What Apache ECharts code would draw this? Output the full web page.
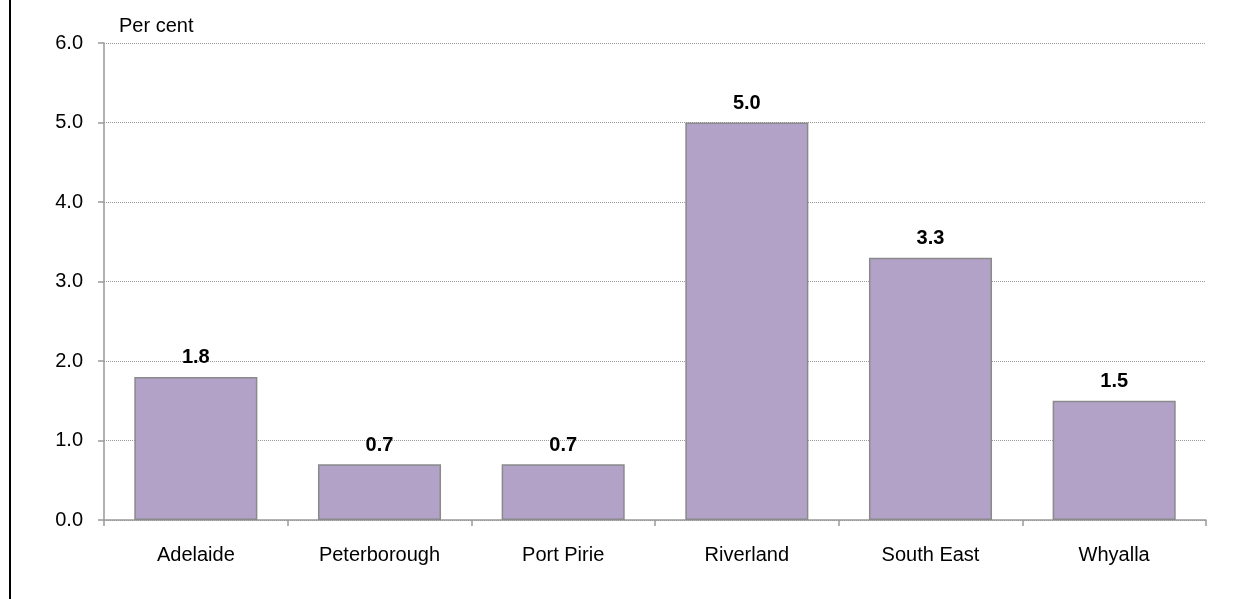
<!DOCTYPE html>
<html><head><meta charset="utf-8">
<script src="https://cdn.jsdelivr.net/npm/echarts@6/dist/echarts.min.js"></script>
<style>html,body{margin:0;padding:0;background:#fff}#c{width:1239px;height:599px;position:relative}
#frame{position:absolute;left:9px;top:0;width:2px;height:599px;background:#000}</style>
</head><body>
<div id="c"></div><div id="frame"></div>
<script>
const categories = ["Adelaide","Peterborough","Port Pirie","Riverland","South East","Whyalla"];
const values = [1.8, 0.7, 0.7, 5.0, 3.3, 1.5];
const yTicks = [0, 1, 2, 3, 4, 5, 6];
const FONT = '"Liberation Sans", Arial, sans-serif';
const chart = echarts.init(document.getElementById('c'), null, {renderer:'canvas'});
chart.setOption({
  animation:false,
  textStyle:{fontFamily:FONT},
  grid:{left:104,right:33,top:43,bottom:79},
  title:{text:'Per cent',left:114,top:11,textStyle:{fontSize:20,fontWeight:'normal',color:'#000',fontFamily:FONT}},
  xAxis:{type:'category',data:categories,
    axisLine:{lineStyle:{color:'#999',width:1.5}},
    axisTick:{show:true,length:6,lineStyle:{color:'#999',width:1.5}},
    axisLabel:{fontSize:20,color:'#000',margin:25,fontFamily:FONT}},
  yAxis:{type:'value',min:yTicks[0],max:yTicks[yTicks.length-1],interval:1,
    axisLine:{show:true,lineStyle:{color:'#999',width:1.5}},
    axisTick:{show:true,length:6,lineStyle:{color:'#999',width:1.5}},
    axisLabel:{fontSize:20,color:'#000',margin:21,formatter:v=>v.toFixed(1),fontFamily:FONT},
    splitLine:{show:true,lineStyle:{color:'#999',type:[1,1],width:1}}},
  series:[{type:'bar',data:values,barCategoryGap:'33%',
    itemStyle:{color:'#b2a2c7',borderColor:'#8a8a8a',borderWidth:1.5},
    label:{show:true,position:'top',distance:9,fontSize:20,fontWeight:'bold',color:'#000',formatter:p=>p.value.toFixed(1),fontFamily:FONT}}]
});
</script></body></html>
